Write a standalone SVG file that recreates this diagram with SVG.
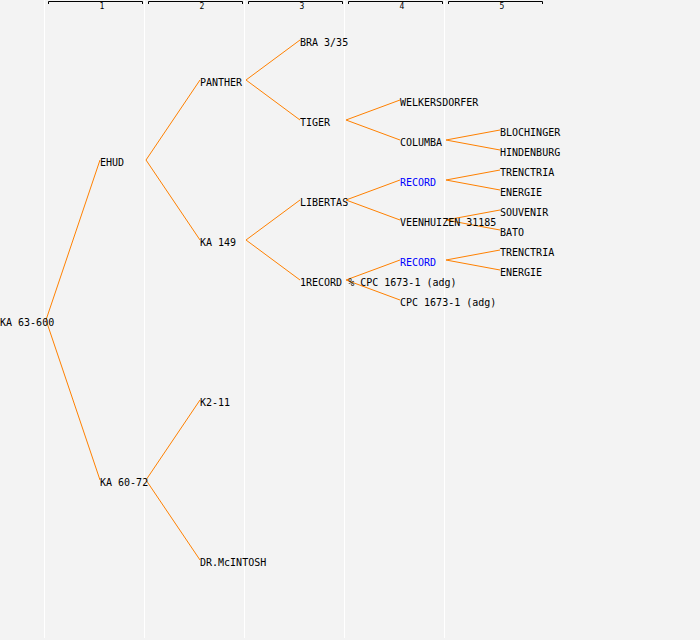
<svg xmlns="http://www.w3.org/2000/svg" width="700" height="640" viewBox="0 0 700 640">
<style>
.bg{fill:#f3f3f3}
.sep{fill:#ffffff}
.br{fill:none;stroke:#000;stroke-width:1}
.hn{font-family:"DejaVu Sans Mono","Liberation Mono",monospace;font-size:8px;fill:#000;text-anchor:middle}
.t{font-family:"DejaVu Sans Mono","Liberation Mono",monospace;font-size:10px;fill:#000}
.b{fill:#0000ff}
.c{fill:none;stroke:#ff8000;stroke-width:1}
</style>
<rect class="bg" x="0" y="0" width="700" height="640"/>
<g id="columns">
<rect class="sep" x="44" y="0" width="1" height="638"/>
<rect class="sep" x="144" y="0" width="1" height="638"/>
<rect class="sep" x="244" y="0" width="1" height="638"/>
<rect class="sep" x="344" y="0" width="1" height="638"/>
<rect class="sep" x="444" y="0" width="1" height="638"/>
<path class="br" d="M48.5,4 V1.5 H142.5 V4 M148.5,4 V1.5 H242.5 V4 M248.5,4 V1.5 H342.5 V4 M348.5,4 V1.5 H442.5 V4 M448.5,4 V1.5 H542.5 V4"/>
<text class="hn" x="102" y="9">1</text>
<text class="hn" x="202" y="9">2</text>
<text class="hn" x="302" y="9">3</text>
<text class="hn" x="402" y="9">4</text>
<text class="hn" x="502" y="9">5</text>
</g>
<g id="connectors">
<path class="c" d="M46,320 L100,160 M46,320 L100,480"/>
<path class="c" d="M146,160 L200,80 M146,160 L200,240 M146,480 L200,400 M146,480 L200,560"/>
<path class="c" d="M246,80 L300,40 M246,80 L300,120 M246,240 L300,200 M246,240 L300,280"/>
<path class="c" d="M346,120 L400,100 M346,120 L400,140 M346,200 L400,180 M346,200 L400,220 M346,280 L400,260 M346,280 L400,300"/>
<path class="c" d="M446,140 L500,130 M446,140 L500,150 M446,180 L500,170 M446,180 L500,190 M446,220 L500,210 M446,220 L500,230 M446,260 L500,250 M446,260 L500,270"/>
</g>
<g id="n-ka63600"><text class="t" x="0" y="326">KA 63-600</text></g>
<g id="n-ehud"><text class="t" x="100" y="166">EHUD</text></g>
<g id="n-ka6072"><text class="t" x="100" y="486">KA 60-72</text></g>
<g id="n-panther"><text class="t" x="200" y="86">PANTHER</text></g>
<g id="n-ka149"><text class="t" x="200" y="246">KA 149</text></g>
<g id="n-k211"><text class="t" x="200" y="406">K2-11</text></g>
<g id="n-drmcintosh"><text class="t" x="200" y="566">DR.McINTOSH</text></g>
<g id="n-bra335"><text class="t" x="300" y="46">BRA 3/35</text></g>
<g id="n-tiger"><text class="t" x="300" y="126">TIGER</text></g>
<g id="n-libertas"><text class="t" x="300" y="206">LIBERTAS</text></g>
<g id="n-1record"><text class="t" x="300" y="286">1RECORD % CPC 1673-1 (adg)</text></g>
<g id="n-welkersdorfer"><text class="t" x="400" y="106">WELKERSDORFER</text></g>
<g id="n-columba"><text class="t" x="400" y="146">COLUMBA</text></g>
<g id="n-record1"><text class="t b" x="400" y="186">RECORD</text></g>
<g id="n-veenhuizen"><text class="t" x="400" y="226">VEENHUIZEN 31185</text></g>
<g id="n-record2"><text class="t b" x="400" y="266">RECORD</text></g>
<g id="n-cpc"><text class="t" x="400" y="306">CPC 1673-1 (adg)</text></g>
<g id="n-blochinger"><text class="t" x="500" y="136">BLOCHINGER</text></g>
<g id="n-hindenburg"><text class="t" x="500" y="156">HINDENBURG</text></g>
<g id="n-trenctria1"><text class="t" x="500" y="176">TRENCTRIA</text></g>
<g id="n-energie1"><text class="t" x="500" y="196">ENERGIE</text></g>
<g id="n-souvenir"><text class="t" x="500" y="216">SOUVENIR</text></g>
<g id="n-bato"><text class="t" x="500" y="236">BATO</text></g>
<g id="n-trenctria2"><text class="t" x="500" y="256">TRENCTRIA</text></g>
<g id="n-energie2"><text class="t" x="500" y="276">ENERGIE</text></g>
</svg>
